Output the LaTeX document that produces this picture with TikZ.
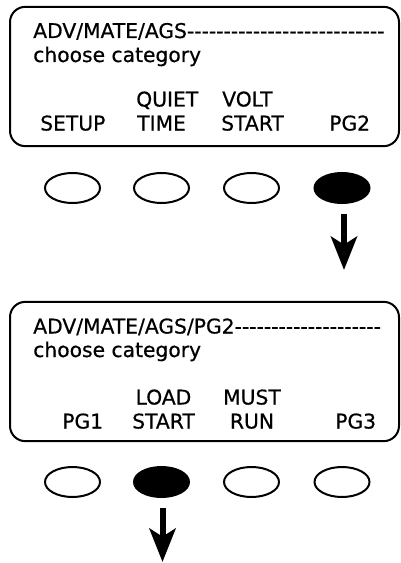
\documentclass[tikz,border=0pt]{standalone}
\usepackage{fontspec}
\setmainfont{DejaVu Sans}[Ligatures=TeXOff, FakeBold=0.6]
\usepackage{xcolor}
\usepackage{tikz}
\usetikzlibrary{
  shapes.geometric,
  arrows.meta,
  positioning
}
\definecolor{inkBlack}{HTML}{000000}
\tikzset{
  screen/.style={
    rectangle, rounded corners=11.5pt, draw=inkBlack, line width=1.5pt,
    minimum width=291.75pt, minimum height=104.5pt, inner sep=0pt
  },
  lcd/.style={
    inner sep=0pt, text=inkBlack, anchor=base west,
    font=\fontsize{15.2}{18}\selectfont
  },
  key/.style={
    ellipse, draw=inkBlack, line width=1.5pt,
    minimum width=41.25pt, minimum height=22.5pt, inner sep=0pt
  },
  key on/.style={key, fill=inkBlack},
  arr/.style={-{Stealth[length=25pt,width=19.5pt,inset=6pt]},
    line width=4.5pt, draw=inkBlack}
}

\begin{document}
\begin{tikzpicture}[x=0.75pt, y=-0.75pt]
    \useasboundingbox (0,0) rectangle (400,563);

    % first menu page
    \node[screen] (scrA) at (204.5,76.5) {};
    \node[lcd] (pathA) at (33,38) {ADV/MATE/AGS---------------------------};
    \node[lcd] (hintA) at (33,62) {choose category};

    \node[lcd] (setupA) at (40,130.5) {SETUP};
    \node[lcd] (quietA) at (136,106.5) {QUIET};
    \node[lcd] (timeA) at (137,130.5) {TIME};
    \node[lcd] (voltA) at (222,106.5) {VOLT};
    \node[lcd] (startA) at (221,130.5) {START};
    \node[lcd] (pgtwoA) at (329,130.5) {PG2};

    \node[key] (keyAa) at (72.5,188) {};
    \node[key] (keyAb) at (161.5,188) {};
    \node[key] (keyAc) at (251.5,188) {};
    \node[key on] (keyAd) at (342,188) {};

    \coordinate (downA) at (344,270);
    \draw[arr, shorten <=7.5pt] (keyAd.south -| downA) -- (downA);

    % second menu page
    \node[screen] (scrB) at (204.5,371.5) {};
    \node[lcd] (pathB) at (33,333.5) {ADV/MATE/AGS/PG2--------------------};
    \node[lcd] (hintB) at (33,357) {choose category};

    \node[lcd] (pgoneB) at (62,428.5) {PG1};
    \node[lcd, anchor=base] (loadB) at (163.5,404.5) {LOAD};
    \node[lcd, anchor=base] (startB) at (163.5,428.5) {START};
    \node[lcd, anchor=base] (mustB) at (252,404.5) {MUST};
    \node[lcd, anchor=base] (runB) at (252,428.5) {RUN};
    \node[lcd] (pgthreeB) at (335,428.5) {PG3};

    \node[key] (keyBa) at (72.5,482) {};
    \node[key on] (keyBb) at (161.5,482) {};
    \node[key] (keyBc) at (251.5,482) {};
    \node[key] (keyBd) at (342,482) {};

    \coordinate (downB) at (162.5,562);
    \draw[arr, shorten <=7.5pt] (keyBb.south -| downB) -- (downB);

\end{tikzpicture}
\end{document}
